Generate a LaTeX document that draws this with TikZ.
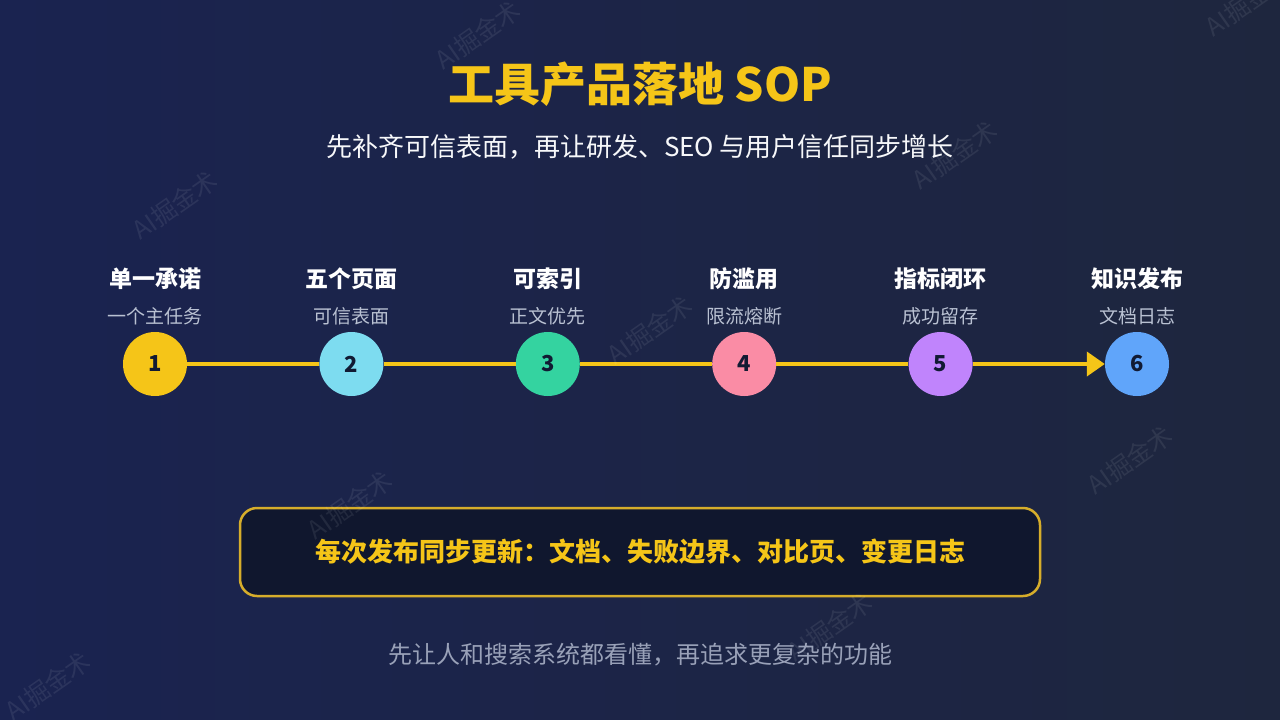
\documentclass[tikz,border=0pt]{standalone}
\usepackage{fontspec}
\setmainfont{Noto Sans CJK SC}
\usetikzlibrary{positioning,arrows.meta,calc}
\definecolor{bgl}{HTML}{1A2350}
\definecolor{bgr}{HTML}{1E263E}
\definecolor{yel}{HTML}{F5C518}
\definecolor{subc}{HTML}{B9C1D2}
\definecolor{numc}{HTML}{111A33}
\definecolor{boxfill}{HTML}{10172E}
\definecolor{boxline}{HTML}{D6AD2B}
\definecolor{c1}{HTML}{F5C518}
\definecolor{c2}{HTML}{7DDCF0}
\definecolor{c3}{HTML}{34D3A0}
\definecolor{c4}{HTML}{FA8CA5}
\definecolor{c5}{HTML}{C084FC}
\definecolor{c6}{HTML}{60A5FA}

\begin{document}
\begin{tikzpicture}[
  x=1pt,y=-1pt,
  dot/.style={circle,minimum size=64pt,inner sep=0pt,text=numc,
    font=\fontsize{22}{22}\selectfont\bfseries},
  head/.style={text=white,font=\fontsize{23}{23}\selectfont\bfseries},
  sub/.style={text=subc,font=\fontsize{19}{19}\selectfont},
  link/.style={draw=yel,line width=4pt},
  wm/.style={text=white,opacity=0.08,rotate=35,font=\fontsize{25}{25}\selectfont},
  node distance=132pt
]
\fill[left color=bgl,right color=bgr] (0,0) rectangle (1280,720);
\useasboundingbox (0,0) rectangle (1280,720);

\node[text=yel,font=\fontsize{46}{46}\selectfont\bfseries] (title) at (640,84) {工具产品落地 SOP};
\node[text=white!88!subc,font=\fontsize{26}{26}\selectfont] (lead) at (640,147)
  {先补齐可信表面，再让研发、SEO 与用户信任同步增长};

% steps
\node[dot,fill=c1] (n1) at (155,364) {1};
\node[dot,fill=c2,right=of n1] (n2) {2};
\node[dot,fill=c3,right=of n2] (n3) {3};
\node[dot,fill=c4,right=of n3] (n4) {4};
\node[dot,fill=c5,right=of n4] (n5) {5};
\node[dot,fill=c6,right=of n5] (n6) {6};

\node[head] (h1) at ($(n1)+(0,-85)$) {单一承诺};
\node[head] (h2) at ($(n2)+(0,-85)$) {五个页面};
\node[head] (h3) at ($(n3)+(0,-85)$) {可索引};
\node[head] (h4) at ($(n4)+(0,-85)$) {防滥用};
\node[head] (h5) at ($(n5)+(0,-85)$) {指标闭环};
\node[head] (h6) at ($(n6)+(0,-85)$) {知识发布};
\node[sub] (s1) at ($(n1)+(0,-48)$) {一个主任务};
\node[sub] (s2) at ($(n2)+(0,-48)$) {可信表面};
\node[sub] (s3) at ($(n3)+(0,-48)$) {正文优先};
\node[sub] (s4) at ($(n4)+(0,-48)$) {限流熔断};
\node[sub] (s5) at ($(n5)+(0,-48)$) {成功留存};
\node[sub] (s6) at ($(n6)+(0,-48)$) {文档日志};

\draw[link] (n1) -- (n2);
\draw[link] (n2) -- (n3);
\draw[link] (n3) -- (n4);
\draw[link] (n4) -- (n5);
\draw[link,-{Triangle[length=18pt,width=24pt]}] (n5) -- (n6);

\node[draw=boxline,line width=2.5pt,rounded corners=17pt,fill=boxfill,
  minimum width=800pt,minimum height=88pt,text=yel,
  font=\fontsize{26}{26}\selectfont\bfseries] (note) at (640,552)
  {每次发布同步更新：文档、失败边界、对比页、变更日志};

\node[text=subc!80!bgl,font=\fontsize{24}{24}\selectfont] (foot) at (640,655)
  {先让人和搜索系统都看懂，再追求更复杂的功能};

% watermarks
\node[wm] (w1) at (478,35) {AI掘金术};
\node[wm] (w2) at (175,205) {AI掘金术};
\node[wm] (w3) at (955,155) {AI掘金术};
\node[wm] (w4) at (1248,2) {AI掘金术};
\node[wm] (w5) at (650,330) {AI掘金术};
\node[wm] (w6) at (350,505) {AI掘金术};
\node[wm] (w7) at (1130,460) {AI掘金术};
\node[wm] (w8) at (48,686) {AI掘金术};
\node[wm] (w9) at (830,627) {AI掘金术};
\end{tikzpicture}
\end{document}
